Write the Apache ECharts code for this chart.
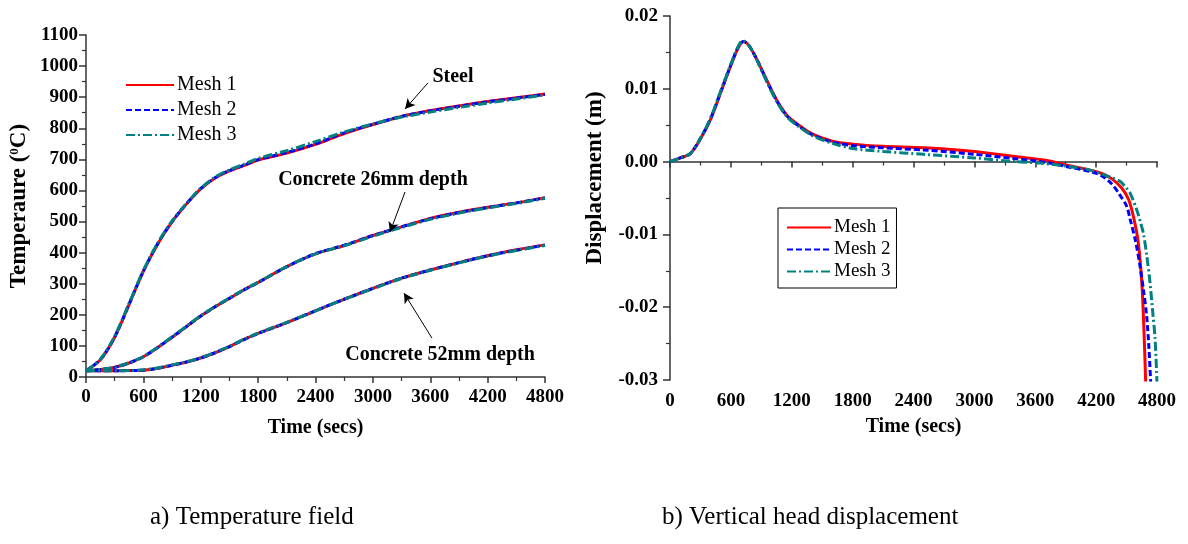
<!DOCTYPE html>
<html>
<head>
<meta charset="utf-8">
<script src="https://cdn.jsdelivr.net/npm/echarts@6/dist/echarts.min.js"></script>
<style>
html, body { margin: 0; background: #fff; }
#main { width: 1188px; height: 544px; }
</style>
</head>
<body>
<div id="main"></div>
<script>
'use strict'

// temperature field (left), time in secs
const tempTime = [0, 150, 300, 450, 600, 750, 900, 1050, 1200, 1350, 1500, 1650, 1800, 2100, 2400, 2700, 3000, 3300, 3600, 3900, 4200, 4500, 4800];
const steelMesh1 = [20, 55, 128, 233, 340, 428, 499, 556, 605, 640, 663, 680, 698, 720, 748, 783, 812, 838, 857, 872, 886, 898, 910];
const steelMesh2 = [20, 56, 129, 234, 341, 429, 500, 557, 606, 641, 664, 681, 699, 722, 750, 785, 813, 838, 856, 871, 885, 897, 909];
const steelMesh3 = [20, 57, 131, 236, 343, 431, 502, 558, 607, 643, 666, 684, 703, 728, 757, 788, 814, 836, 852, 867, 881, 894, 907];
const c26Mesh1 = [20, 24, 31, 45, 65, 95, 128, 162, 196, 226, 253, 280, 304, 355, 396, 423, 455, 483, 510, 530, 546, 560, 577];
const c26Mesh2 = [20, 24, 31, 45, 65, 95, 128, 162, 196, 226, 253, 280, 304, 355, 397, 424, 455, 483, 509, 529, 545, 560, 576];
const c26Mesh3 = [20, 24, 32, 46, 66, 96, 129, 163, 197, 227, 254, 281, 305, 355, 396, 422, 453, 481, 507, 527, 544, 558, 575];
const c52Mesh1 = [20, 20, 20, 21, 22, 28, 38, 48, 61, 78, 98, 120, 140, 175, 213, 250, 285, 318, 344, 368, 390, 409, 425];
const c52Mesh2 = [20, 20, 20, 21, 22, 28, 38, 48, 61, 78, 98, 120, 140, 175, 213, 250, 285, 318, 344, 368, 390, 408, 424];
const c52Mesh3 = [20, 20, 20, 21, 23, 29, 39, 49, 62, 79, 99, 121, 141, 176, 213, 250, 284, 317, 343, 367, 389, 407, 423];

// vertical head displacement (right)
const dispTime1 = [0, 100, 200, 300, 400, 500, 600, 675, 725, 775, 850, 950, 1050, 1150, 1250, 1400, 1600, 1800, 2100, 2500, 3000, 3400, 3700, 3950, 4150, 4250, 4350, 4450, 4520, 4570, 4615, 4650, 4672, 4690];
const dispMesh1 = [0, 0.0005, 0.0011, 0.0031, 0.0058, 0.0095, 0.0132, 0.0157, 0.0165, 0.0160, 0.0142, 0.0113, 0.0085, 0.0064, 0.0052, 0.0038, 0.0028, 0.0024, 0.0021, 0.0019, 0.0014, 0.0007, 0.0002, -0.0006, -0.0012, -0.0016, -0.0023, -0.0036, -0.0052, -0.0077, -0.0111, -0.0166, -0.0234, -0.0310];
const dispTime2 = [0, 100, 200, 300, 400, 500, 600, 675, 725, 775, 850, 950, 1050, 1150, 1250, 1400, 1600, 1800, 2100, 2500, 3000, 3400, 3700, 3950, 4150, 4250, 4350, 4420, 4500, 4535, 4590, 4632, 4670, 4698, 4720, 4740];
const dispMesh2 = [0, 0.0005, 0.0011, 0.0032, 0.0059, 0.0096, 0.0133, 0.0158, 0.0165, 0.0160, 0.0142, 0.0112, 0.0084, 0.0063, 0.0051, 0.0037, 0.0027, 0.0022, 0.0019, 0.0016, 0.0010, 0.0004, -0.0001, -0.0008, -0.0014, -0.0019, -0.0030, -0.0043, -0.0061, -0.0079, -0.0110, -0.0143, -0.0180, -0.0212, -0.0255, -0.0310];
const dispTime3 = [0, 100, 200, 300, 400, 500, 600, 675, 715, 775, 850, 950, 1050, 1150, 1250, 1400, 1600, 1800, 2100, 2500, 3000, 3400, 3650, 4000, 4150, 4270, 4350, 4435, 4490, 4534, 4600, 4640, 4665, 4700, 4731, 4760, 4781, 4800];
const dispMesh3 = [0, 0.0005, 0.0011, 0.0032, 0.0060, 0.0097, 0.0134, 0.0159, 0.0166, 0.0160, 0.0141, 0.0111, 0.0083, 0.0062, 0.0050, 0.0036, 0.0025, 0.0018, 0.0014, 0.0010, 0.0005, 0.0000, -0.0002, -0.0008, -0.0012, -0.0018, -0.0022, -0.0027, -0.0035, -0.0043, -0.0066, -0.0085, -0.0098, -0.0130, -0.0166, -0.0210, -0.0243, -0.0305];

const meshNames = ['Mesh 1', 'Mesh 2', 'Mesh 3'];

// annotations [text, textPos, arrowFrom, arrowTo] in data units
const notes = [
    ['Steel', [3838, 965], [3576, 946], [3336, 862]],
    ['Concrete 26mm depth', [3001, 634], [3336, 595], [3179, 466]],
    ['Concrete 52mm depth', [3702, 71], [3618, 125], [3325, 270]]
];

const serif = '"Liberation Serif", "Times New Roman", serif';
const styles = [
    { color: '#ff0000', width: 3, type: 'solid' },
    { color: '#0000ff', width: 3, type: [6, 3] },
    { color: '#008080', width: 3, type: [9, 3, 2, 3] }
];

let zip = (xs, ys) => xs.map((x, i) => [x, ys[i]]);

let myChart = echarts.init(document.getElementById('main'));

let xAxisBase = {
    type: 'value',
    min: 0,
    max: 4800,
    interval: 600,
    name: 'Time (secs)',
    nameLocation: 'middle',
    nameTextStyle: { fontFamily: serif, fontWeight: 'bold', fontSize: 20, color: '#000' },
    axisLine: { lineStyle: { color: '#333', width: 1.5 } },
    axisTick: { length: 6, lineStyle: { color: '#333', width: 1.5 } },
    minorTick: { show: true, splitNumber: 2, length: 4, lineStyle: { color: '#333', width: 1.2 } },
    axisLabel: { fontFamily: serif, fontWeight: 'bold', fontSize: 19, color: '#000', margin: 11, formatter: v => String(v) },
    splitLine: { show: false }
};

let yAxisBase = {
    type: 'value',
    nameLocation: 'middle',
    nameTextStyle: { fontFamily: serif, fontWeight: 'bold', fontSize: 23, color: '#000' },
    axisLine: { show: true, lineStyle: { color: '#333', width: 1.5 } },
    axisTick: { show: true, length: 7, lineStyle: { color: '#333', width: 1.5 } },
    minorTick: { show: true, splitNumber: 2, length: 4, lineStyle: { color: '#333', width: 1.2 } },
    axisLabel: { fontFamily: serif, fontWeight: 'bold', fontSize: 19, color: '#000', margin: 8, formatter: v => String(v) },
    splitLine: { show: false }
};

let series = [];
let tempSets = [
    [steelMesh1, steelMesh2, steelMesh3],
    [c26Mesh1, c26Mesh2, c26Mesh3],
    [c52Mesh1, c52Mesh2, c52Mesh3]
];
tempSets.forEach(set => {
    set.forEach((vals, m) => {
        series.push({
            name: meshNames[m],
            type: 'line',
            xAxisIndex: 0,
            yAxisIndex: 0,
            smooth: 0.3,
            symbol: 'none',
            lineStyle: styles[m],
            itemStyle: { color: styles[m].color },
            z: 2 + m,
            data: zip(tempTime, vals)
        });
    });
});

// arrows + labels for the temperature curves
series[0].markLine = {
    silent: true,
    symbol: ['none', 'arrow'],
    symbolSize: [8, 10],
    label: { show: false },
    lineStyle: { color: '#000', width: 1, type: 'solid' },
    data: notes.map(n => [{ coord: n[2] }, { coord: n[3] }])
};
series[0].markPoint = {
    silent: true,
    symbol: 'circle',
    symbolSize: 0,
    label: {
        show: true,
        position: 'inside',
        formatter: '{b}',
        fontFamily: serif,
        fontWeight: 'bold',
        fontSize: 20,
        color: '#000'
    },
    data: notes.map(n => ({ name: n[0], coord: n[1] }))
};

[[dispTime1, dispMesh1], [dispTime2, dispMesh2], [dispTime3, dispMesh3]].forEach((d, m) => {
    series.push({
        name: meshNames[m],
        type: 'line',
        xAxisIndex: 1,
        yAxisIndex: 1,
        smooth: 0.3,
        symbol: 'none',
        lineStyle: styles[m],
        itemStyle: { color: styles[m].color },
        z: 2 + m,
        data: zip(d[0], d[1])
    });
});

myChart.setOption({
    backgroundColor: '#fff',
    animation: false,
    title: [{
        text: 'a) Temperature field',
        left: 145,
        top: 500,
        textStyle: { fontFamily: serif, fontWeight: 'normal', fontSize: 25, color: '#000' }
    }, {
        text: 'b) Vertical head displacement',
        left: 657,
        top: 500,
        textStyle: { fontFamily: serif, fontWeight: 'normal', fontSize: 25, color: '#000' }
    }],
    legend: [{
        orient: 'vertical',
        left: 120,
        top: 70,
        itemWidth: 48,
        itemHeight: 12,
        itemGap: 5,
        itemStyle: { opacity: 0 },
        textStyle: { fontFamily: serif, fontSize: 20, color: '#000', padding: [0, 0, 0, -2] },
        data: meshNames
    }, {
        orient: 'vertical',
        left: 778,
        top: 208,
        padding: [10, 6, 7, 8],
        borderColor: '#000',
        borderWidth: 1,
        itemWidth: 44,
        itemHeight: 12,
        itemGap: 3,
        itemStyle: { opacity: 0 },
        textStyle: { fontFamily: serif, fontSize: 19, color: '#000', padding: [0, 0, 0, -2] },
        data: meshNames
    }],
    grid: [
        { left: 86, right: 643, top: 35, bottom: 167 },
        { left: 670, right: 31, top: 16, bottom: 164 }
    ],
    xAxis: [
        Object.assign({}, xAxisBase, { gridIndex: 0, nameGap: 41 }),
        Object.assign({}, xAxisBase, { gridIndex: 1, nameGap: 37,
            axisLabel: Object.assign({}, xAxisBase.axisLabel, { margin: 12 }) })
    ],
    yAxis: [
        Object.assign({}, yAxisBase, {
            gridIndex: 0,
            min: 0,
            max: 1100,
            interval: 100,
            name: 'Temperaure ({sup|0}C)',
            nameGap: 55,
            nameTextStyle: Object.assign({}, yAxisBase.nameTextStyle, {
                rich: {
                    sup: { fontFamily: serif, fontWeight: 'bold', fontSize: 13, color: '#000', verticalAlign: 'top', padding: [0, 0, 8, 0] }
                }
            })
        }),
        Object.assign({}, yAxisBase, {
            gridIndex: 1,
            min: -0.03,
            max: 0.02,
            interval: 0.01,
            name: 'Displacement (m)',
            nameGap: 63,
            nameTextStyle: Object.assign({}, yAxisBase.nameTextStyle, { padding: [0, 0, 0, 40] }),
            axisLabel: Object.assign({}, yAxisBase.axisLabel, {
                margin: 12,
                formatter: v => (Math.abs(v) < 1e-9 ? 0 : v).toFixed(2)
            })
        })
    ],
    series: series
});
</script>
</body>
</html>
